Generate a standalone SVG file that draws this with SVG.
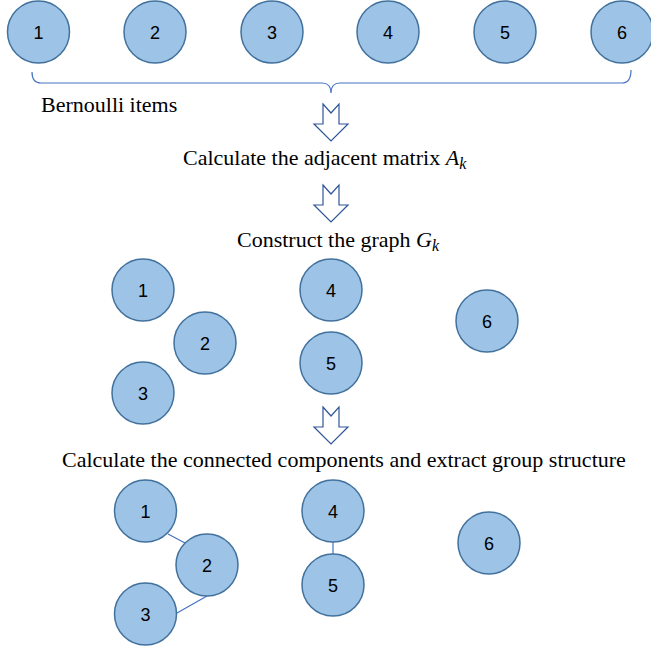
<svg xmlns="http://www.w3.org/2000/svg" width="651" height="649" viewBox="0 0 651 649">
<style>
.n circle{fill:#9DC3E6;stroke:#41719C;stroke-width:1.5}
.n text{font-family:"Liberation Sans",Arial,sans-serif;font-size:18px;fill:#000;text-anchor:middle}
.lbl{font-family:"Liberation Serif","Times New Roman",serif;font-size:22px;fill:#000}
.arr{fill:#fff;stroke:#2F5597;stroke-width:1.2;stroke-linejoin:miter}
.edge{stroke:#4472C4;stroke-width:1.2;fill:none}
.m{font-family:"Liberation Serif","Times New Roman",serif;font-style:italic}
</style>
<defs>
<path id="arrow" class="arr" d="M-8,0 L0,9 L8,0 L8,20 L17,20 L0,37 L-17,20 L-8,20 Z"/>
</defs>
<!-- top row -->
<g id="t1" class="n"><circle cx="38.5" cy="32" r="31"/><text x="38.5" y="39">1</text></g>
<g id="t2" class="n"><circle cx="155" cy="32" r="31"/><text x="155" y="39">2</text></g>
<g id="t3" class="n"><circle cx="272" cy="32" r="31"/><text x="272" y="39">3</text></g>
<g id="t4" class="n"><circle cx="388" cy="32" r="31"/><text x="388" y="39">4</text></g>
<g id="t5" class="n"><circle cx="505" cy="32" r="31"/><text x="505" y="39">5</text></g>
<g id="t6" class="n"><circle cx="622" cy="32" r="31"/><text x="622" y="39">6</text></g>
<g id="brace"><path class="edge" d="M32,72 Q32,83 41,83 L322,83 Q331,83 331,93 Q331,83 340,83 L622,83 Q631,83 631,70"/></g>
<text class="lbl" x="41" y="112">Bernoulli items</text>
<g id="arrows">
<use href="#arrow" x="331" y="104"/>
<use href="#arrow" x="331" y="185"/>
<use href="#arrow" x="331" y="407"/>
</g>
<text class="lbl" x="183" y="165">Calculate the adjacent matrix <tspan class="m">A</tspan><tspan class="m" font-size="16" dy="4">k</tspan></text>
<text class="lbl" x="237" y="247">Construct the graph <tspan class="m">G</tspan><tspan class="m" font-size="16" dy="4">k</tspan></text>
<!-- middle graph -->
<g id="m1" class="n"><circle cx="143" cy="290" r="31"/><text x="143" y="297">1</text></g>
<g id="m2" class="n"><circle cx="205" cy="343" r="31"/><text x="205" y="350">2</text></g>
<g id="m3" class="n"><circle cx="143" cy="393" r="31"/><text x="143" y="400">3</text></g>
<g id="m4" class="n"><circle cx="331" cy="290" r="31"/><text x="331" y="297">4</text></g>
<g id="m5" class="n"><circle cx="331" cy="363" r="31"/><text x="331" y="370">5</text></g>
<g id="m6" class="n"><circle cx="487" cy="321" r="31"/><text x="487" y="328">6</text></g>
<text class="lbl" x="62" y="467">Calculate the connected components and extract group structure</text>
<!-- bottom graph -->
<g id="connectors">
<line class="edge" x1="168" y1="534" x2="185" y2="543"/>
<line class="edge" x1="207" y1="596" x2="177" y2="613"/>
<line class="edge" x1="333" y1="542" x2="333" y2="554"/>
</g>
<g id="b1" class="n"><circle cx="145.5" cy="511" r="31"/><text x="145.5" y="518">1</text></g>
<g id="b2" class="n"><circle cx="207" cy="565" r="31"/><text x="207" y="572">2</text></g>
<g id="b3" class="n"><circle cx="145.5" cy="614" r="31"/><text x="145.5" y="621">3</text></g>
<g id="b4" class="n"><circle cx="333" cy="511" r="31"/><text x="333" y="518">4</text></g>
<g id="b5" class="n"><circle cx="333" cy="585" r="31"/><text x="333" y="592">5</text></g>
<g id="b6" class="n"><circle cx="489" cy="543" r="31"/><text x="489" y="550">6</text></g>
</svg>
